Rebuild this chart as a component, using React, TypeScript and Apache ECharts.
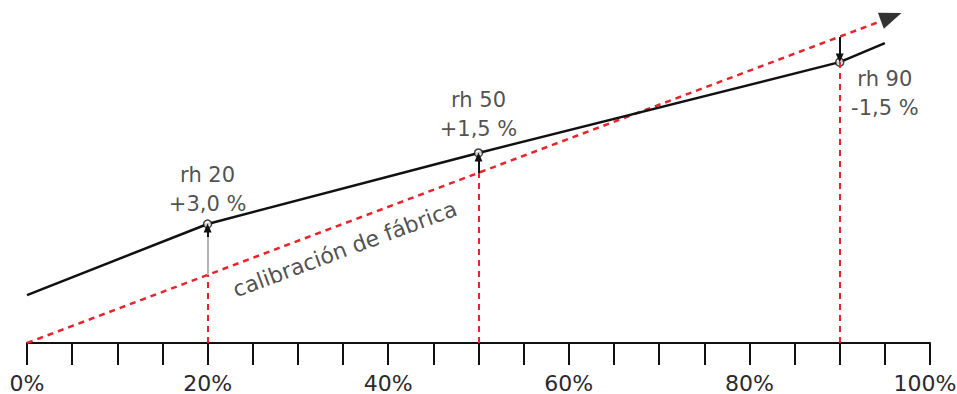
import React, { useEffect, useRef } from "react";
import * as echarts from "echarts";

// Sensor reading curve (x = true rh %, y = reading, schematic)
const sensorX = [0, 20, 50, 90, 95];
const sensorY = [14.1, 35.0, 55.9, 82.6, 88.2];

// Factory calibration line (ideal y = x)
const calibX = [0, 94.6];
const calibY = [0, 94.7];

// Reference points
const refX = [20, 50, 90];
const refSensorY = [35.0, 55.9, 82.6];
const refCalibY = [20, 50, 90];
const refNames = ["rh 20", "rh 50", "rh 90"];
const refDeviation = ["+3,0 %", "+1,5 %", "-1,5 %"];

const FONT = "DejaVu Sans";
const RED = "#e8232a";

export default function App() {
  const ref = useRef<HTMLDivElement>(null);

  useEffect(() => {
    if (!ref.current) return;
    const chart = echarts.init(ref.current, undefined, { renderer: "svg" });

    const sensorData = sensorX.map((x, i) => [x, sensorY[i]]);
    const calibData = calibX.map((x, i) => [x, calibY[i]]);
    const circles = refX.map((x, i) => [x, refSensorY[i]]);

    // vertical red dashed guides from axis to calibration line
    const guides = refX.map((x, i) => [
      { coord: [x, 0] },
      { coord: [x, refCalibY[i]] },
    ]);

    // deviation arrows from calibration line to sensor curve
    const arrows: any[] = [];
    refX.forEach((x, i) => {
      const up = refSensorY[i] > refCalibY[i];
      const end = up ? refSensorY[i] - 1.2 : refSensorY[i] + 1.2;
      if (i === 0) {
        arrows.push([
          {
            coord: [x, refCalibY[i]],
            symbol: "none",
            lineStyle: { color: "#b5b5b5", width: 2, type: "solid" },
          },
          { coord: [x, end - 2.2], symbol: "none" },
        ]);
        arrows.push([
          { coord: [x, end - 2.6], symbol: "none" },
          { coord: [x, end], symbol: "triangle" },
        ]);
      } else {
        arrows.push([
          { coord: [x, refCalibY[i]], symbol: "none" },
          { coord: [x, end], symbol: "triangle" },
        ]);
      }
    });

    const labelAnchors = [
      [20, 45.1],
      [50, 67.1],
      [95.0, 73.4],
    ];

    chart.setOption({
      animation: false,
      grid: { left: 27, right: 27, top: 3, bottom: 51, outerBoundsMode: "none", containLabel: false },
      xAxis: {
        type: "value",
        min: 0,
        max: 100,
        interval: 20,
        axisLine: { show: true, lineStyle: { color: "#111", width: 2 } },
        axisTick: { show: true, inside: false, length: 22, lineStyle: { color: "#111", width: 2 } },
        minorTick: { show: true, splitNumber: 4, length: 22, lineStyle: { color: "#111", width: 2 } },
        splitLine: { show: false },
        minorSplitLine: { show: false },
        axisLabel: {
          formatter: (v: number) => (v === 100 ? "{m|" + v + "%}" : v + "%"),
          fontFamily: FONT,
          fontSize: 22,
          lineHeight: 22,
          color: "#2a2a2a",
          margin: 29,
          rich: {
            m: {
              fontFamily: FONT,
              fontSize: 22,
              lineHeight: 22,
              color: "#2a2a2a",
              padding: [0, 10, 0, 0],
            },
          },
        },
      },
      yAxis: {
        type: "value",
        min: 0,
        max: 100,
        show: false,
        splitLine: { show: false },
      },
      series: [
        {
          type: "line",
          data: calibData,
          symbol: "none",
          lineStyle: { color: RED, width: 2.5, type: [6, 5] },
          markLine: {
            silent: true,
            symbol: "none",
            label: { show: false },
            lineStyle: { color: RED, width: 2, type: [6, 5] },
            data: guides,
          },
          z: 2,
        },
        {
          type: "line",
          data: sensorData,
          symbol: "none",
          lineStyle: { color: "#111", width: 2.5 },
          markLine: {
            silent: true,
            symbolSize: [8, 9],
            label: { show: false },
            lineStyle: { color: "#111", width: 2, type: "solid" },
            data: arrows,
          },
          z: 3,
        },
        {
          type: "scatter",
          data: circles,
          symbol: "circle",
          symbolSize: 8,
          itemStyle: { color: "#fff", borderColor: "#111", borderWidth: 1.5 },
          z: 4,
        },
        {
          // arrowhead at the end of the calibration line
          type: "scatter",
          data: [[95.7, 95.9]],
          symbol: "triangle",
          symbolSize: [17, 22],
          symbolRotate: -69.4,
          itemStyle: { color: "#000" },
          z: 5,
        },
        {
          type: "scatter",
          data: labelAnchors.map((p, i) => ({
            value: p,
            label: { formatter: refNames[i] + "\n" + refDeviation[i] },
          })),
          symbolSize: 1,
          itemStyle: { color: "transparent" },
          label: {
            show: true,
            position: "inside",
            fontFamily: FONT,
            fontSize: 21,
            lineHeight: 29,
            color: "#222",
            align: "center",
            verticalAlign: "middle",
          },
          z: 6,
        },
        {
          type: "scatter",
          data: [[35.2, 27.6]],
          symbolSize: 1,
          itemStyle: { color: "transparent" },
          label: {
            show: true,
            position: "inside",
            formatter: "calibración de fábrica",
            rotate: 20.4,
            fontFamily: FONT,
            fontSize: 22,
            color: "#222",
            align: "center",
            verticalAlign: "middle",
          },
          z: 6,
        },
      ],
    });

    return () => chart.dispose();
  }, []);

  return (
    <div
      ref={ref}
      style={{ position: "fixed", left: 0, top: 0, width: 957, height: 394, background: "#fff" }}
    />
  );
}
